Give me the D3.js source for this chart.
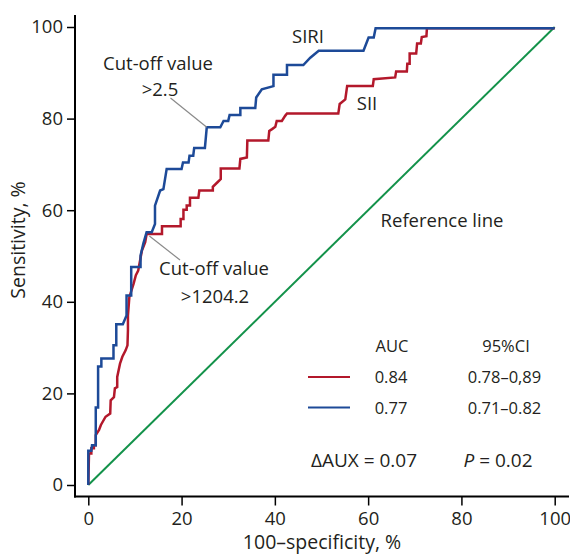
<!DOCTYPE html>
<html>
<head>
<meta charset="utf-8">
<script src="https://cdn.jsdelivr.net/npm/d3@7/dist/d3.min.js"></script>
<style>
  body { margin: 0; background: #fff; }
  text { font-family: "Open Sans", sans-serif; fill: #231f20; }
</style>
</head>
<body>
<svg id="chart" width="570" height="554"></svg>
<script>
// ROC data (100-specificity, sensitivity), in %
var siriFpr  = [0, 0, 0.65, 0.8, 1.6, 1.6, 2.1, 2.1, 2.8, 2.8, 5.4, 5.4, 6.0, 6.0, 7.4, 8.2, 8.2, 9.2, 9.2, 11.2, 11.2, 11.8, 12.5, 13.6, 14.3, 14.3, 15.4, 16.1, 16.8, 20.0, 20.3, 21.5, 21.7, 22.5, 22.7, 25.0, 25.4, 28.3, 29.0, 30.0, 30.3, 32.6, 32.6, 35.8, 36.0, 37.2, 39.7, 39.7, 42.6, 42.6, 46.1, 47.6, 49.4, 59.0, 60.1, 61.2, 61.6, 100];
var siriSens = [0, 7.5, 7.5, 8.7, 8.7, 16.9, 16.9, 25.9, 25.9, 27.6, 27.6, 30.5, 30.5, 35.1, 35.1, 37.0, 41.4, 41.4, 47.6, 47.6, 50.1, 52.7, 55.2, 55.2, 57.0, 61.0, 64.3, 64.6, 69.0, 69.0, 70.4, 70.4, 71.9, 71.9, 73.6, 73.6, 78.1, 78.1, 79.5, 79.5, 80.8, 80.8, 82.3, 82.3, 84.6, 86.4, 87.1, 89.6, 89.6, 91.7, 91.7, 93.3, 94.8, 94.8, 97.7, 97.7, 99.7, 99.7];

var siiFpr  = [0, 0.15, 0.65, 0.65, 1.2, 1.2, 1.6, 1.6, 2.3, 2.7, 3.7, 4.7, 4.8, 5.5, 5.7, 6.2, 6.2, 6.8, 7.3, 8.0, 8.4, 8.5, 8.5, 8.8, 9.7, 10.2, 10.7, 11.1, 11.5, 12.2, 12.5, 15.8, 15.8, 19.8, 19.8, 20.4, 20.4, 21.1, 21.1, 21.8, 21.8, 23.6, 23.8, 26.7, 26.7, 27.7, 28.4, 28.4, 32.4, 32.6, 34.0, 34.1, 38.6, 38.8, 39.4, 40.1, 40.4, 41.5, 42.2, 42.6, 53.6, 53.9, 55.1, 55.5, 61.0, 61.2, 65.8, 66.0, 68.3, 68.4, 68.9, 68.9, 70.3, 70.5, 71.3, 71.5, 72.5, 72.6, 100];
var siiSens = [0, 6.9, 6.9, 8.0, 8.0, 8.7, 8.7, 10.9, 12.0, 13.1, 14.9, 15.6, 18.5, 19.2, 21.1, 21.4, 23.6, 26.5, 28.0, 29.4, 30.5, 33.8, 37.0, 41.0, 43.9, 45.8, 46.8, 49.0, 51.2, 53.0, 54.8, 54.8, 56.5, 56.5, 58.1, 58.1, 60.1, 60.1, 61.0, 61.0, 62.7, 62.7, 64.3, 64.3, 65.1, 66.1, 66.8, 69.1, 69.1, 71.2, 71.5, 75.2, 75.2, 77.3, 77.7, 78.2, 79.5, 79.5, 80.6, 81.1, 81.1, 83.2, 84.2, 87.1, 87.1, 88.6, 89.0, 90.3, 90.3, 92.0, 92.0, 94.2, 94.2, 96.4, 96.4, 97.8, 98.0, 99.7, 99.7];

var refFpr  = [0, 100];
var refSens = [0, 100];

var xTicks = [0, 20, 40, 60, 80, 100];
var yTicks = [0, 20, 40, 60, 80, 100];

var legendHead = ["AUC", "95%CI"];
var legendAuc  = ["0.84", "0.77"];
var legendCi   = ["0.78\u20130,89", "0.71\u20130.82"];
var legendCols = ["#b3182b", "#1d4a98"];

var svg = d3.select("#chart");
var x = d3.scaleLinear().domain([0, 100]).range([88.3, 554.7]);
var y = d3.scaleLinear().domain([0, 100]).range([485, 27]);

var axisY = 496.5, axisX = 75;

// axes
svg.append("line")
    .attr("x1", 74).attr("x2", 569)
    .attr("y1", axisY).attr("y2", axisY)
    .attr("stroke", "#000").attr("stroke-width", 2);
svg.append("line")
    .attr("x1", axisX).attr("x2", axisX)
    .attr("y1", 15).attr("y2", axisY + 1)
    .attr("stroke", "#000").attr("stroke-width", 2);

var gx = svg.append("g")
    .attr("transform", "translate(0," + axisY + ")")
    .call(d3.axisBottom(x).tickValues(xTicks).tickSize(9).tickSizeOuter(0).tickPadding(6));
var gy = svg.append("g")
    .attr("transform", "translate(" + axisX + ",0)")
    .call(d3.axisLeft(y).tickValues(yTicks).tickSize(8).tickSizeOuter(0).tickPadding(4));

[gx, gy].forEach(function(g) {
    g.select(".domain").remove();
    g.selectAll(".tick line").attr("stroke", "#000").attr("stroke-width", 1.5);
    g.selectAll(".tick text")
        .attr("font-family", "Open Sans, sans-serif")
        .attr("font-size", 18.5)
        .attr("fill", "#231f20");
});

svg.append("text")
    .attr("x", 322).attr("y", 549)
    .attr("text-anchor", "middle")
    .attr("font-size", 19.5)
    .text("100\u2013specificity, %");
svg.append("text")
    .attr("transform", "translate(25,240) rotate(-90)")
    .attr("text-anchor", "middle")
    .attr("font-size", 19.5)
    .text("Sensitivity, %");

// curves
var line = d3.line()
    .x(function(d) { return x(d[0]); })
    .y(function(d) { return y(d[1]); });

function pairs(xs, ys) {
    return xs.map(function(v, i) { return [v, ys[i]]; });
}

svg.append("path")
    .datum(pairs(refFpr, refSens))
    .attr("d", line)
    .attr("fill", "none")
    .attr("stroke", "#13924a")
    .attr("stroke-width", 2);

svg.append("path")
    .datum(pairs(siiFpr, siiSens))
    .attr("d", line)
    .attr("fill", "none")
    .attr("stroke", legendCols[0])
    .attr("stroke-width", 2.5);

svg.append("path")
    .datum(pairs(siriFpr, siriSens))
    .attr("d", line)
    .attr("fill", "none")
    .attr("stroke", legendCols[1])
    .attr("stroke-width", 2.5);

// annotations
function label(tx, ty, str, size) {
    return svg.append("text")
        .attr("x", tx).attr("y", ty)
        .attr("text-anchor", "middle")
        .attr("font-size", size || 18.5)
        .text(str);
}

svg.append("line")
    .attr("x1", 170.5).attr("y1", 98)
    .attr("x2", x(25.4)).attr("y2", y(78.1))
    .attr("stroke", "#8a8a8a").attr("stroke-width", 1.2);
svg.append("line")
    .attr("x1", x(13.1)).attr("y1", y(54.8) + 2)
    .attr("x2", 180).attr("y2", 260)
    .attr("stroke", "#8a8a8a").attr("stroke-width", 1.2);

label(158, 70, "Cut-off value");
label(160, 96, ">2.5");
label(214, 275, "Cut-off value");
label(215, 303, ">1204.2");
label(308, 43, "SIRI");
label(367, 110, "SII");
label(442, 227, "Reference line");

// legend
label(392, 352, legendHead[0], 16.5);
label(506, 352, legendHead[1], 16.5);
legendAuc.forEach(function(v, i) {
    var ly = 377 + i * 30.5;
    svg.append("line")
        .attr("x1", 308).attr("x2", 350)
        .attr("y1", ly).attr("y2", ly)
        .attr("stroke", legendCols[i]).attr("stroke-width", 2.2);
    label(391, ly + 6, v, 16.5);
    label(504.5, ly + 6, legendCi[i], 16.5);
});

label(364, 467, "\u0394AUX = 0.07", 19);
var pt = svg.append("text")
    .attr("x", 498).attr("y", 467)
    .attr("text-anchor", "middle")
    .attr("font-size", 19);
pt.append("tspan").attr("font-style", "italic").text("P");
pt.append("tspan").text(" = 0.02");
</script>
</body>
</html>
